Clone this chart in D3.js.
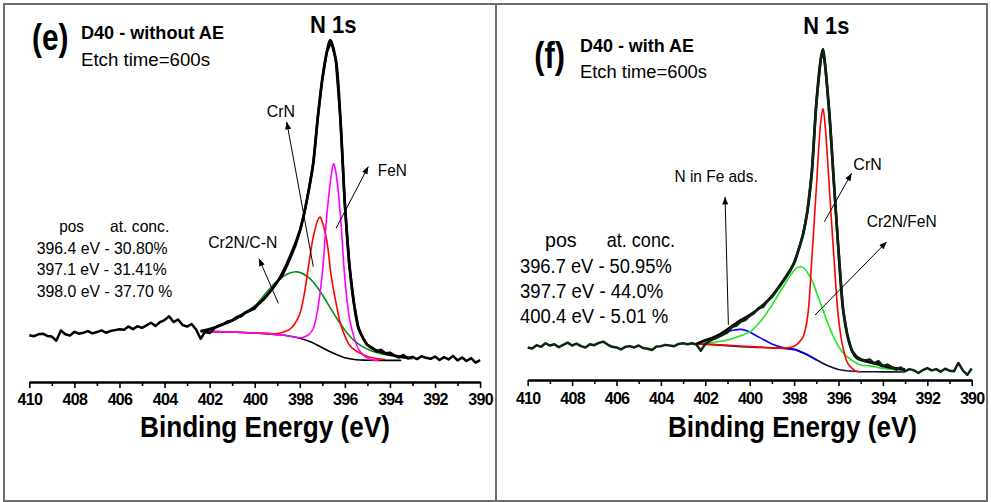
<!DOCTYPE html>
<html>
<head>
<meta charset="utf-8">
<script src="https://cdn.jsdelivr.net/npm/d3@7"></script>
<style>
    body { margin: 0; background: #fff; }
    svg { display: block; font-family: "Liberation Sans", Arial, sans-serif; }
</style>
</head>
<body>
<div id="chart"></div>
<script>
// binding energy (eV) / intensity (a.u., peak = 100)
var ticksMajor = [410, 408, 406, 404, 402, 400, 398, 396, 394, 392, 390];
var ticksMinor = [409, 407, 405, 403, 401, 399, 397, 395, 393, 391];

//----------(e) D40 - without AE----------
var rawE = [[410.0,8.3],[409.8,8.0],[409.6,8.6],[409.4,8.8],[409.2,8.1],[409.0,7.9],[408.8,6.6],[408.6,9.8],[408.4,8.6],[408.2,8.2],
    [408.0,9.4],[407.8,8.8],[407.6,9.1],[407.4,9.6],[407.2,8.9],[407.0,9.3],[406.8,9.8],[406.6,9.1],[406.4,9.6],[406.2,9.9],
    [406.0,10.2],[405.8,10.0],[405.6,11.0],[405.4,10.2],[405.2,11.1],[405.0,10.6],[404.8,11.4],[404.6,12.2],[404.4,11.2],[404.2,12.4],
    [404.0,13.0],[403.8,14.2],[403.6,12.4],[403.4,13.2],[403.2,11.5],[403.0,11.0],[402.8,11.8],[402.6,10.1],[402.4,7.2],[402.2,9.4],
    [402.0,9.0],[401.8,10.4],[401.6,11.3],[401.4,11.8],[401.2,12.6],[401.0,12.9],[400.8,14.0],[400.6,14.2],[400.4,15.4],[400.2,16.0],
    [400.0,16.6],[399.8,18.5],[399.6,19.4],[399.4,21.2],[399.2,22.9],[399.0,24.9],[398.8,26.6],[398.6,29.4],[398.4,32.6],[398.2,36.0],
    [398.0,40.5],[397.8,46.3],[397.6,53.4],[397.4,61.8],[397.2,76.0],[397.0,87.9],[396.8,96.3],[396.6,99.5],[396.4,93.8],[396.2,75.8],
    [396.0,49.1],[395.8,30.1],[395.6,18.3],[395.4,10.6],[395.2,7.5],[395.0,5.3],[394.8,4.5],[394.6,3.2],[394.4,3.8],[394.2,2.7],
    [394.0,2.9],[393.8,2.0],[393.6,1.4],[393.4,2.2],[393.2,1.1],[393.0,1.6],[392.8,0.9],[392.6,1.8],[392.4,1.3],[392.2,1.0],
    [392.0,1.7],[391.8,0.6],[391.6,1.5],[391.4,0.8],[391.2,1.9],[391.0,0.5],[390.8,1.4],[390.6,0.3],[390.4,1.2],[390.2,-0.2],[390.0,0.6]];
var envE = [[402.4,9.6],[402.0,10.2],[401.5,11.4],[401.0,12.9],[400.5,14.9],[400.0,17.0],[399.5,20.3],[399.0,24.8],[398.5,31.7],
    [398.0,40.7],[397.8,46.3],[397.6,53.4],[397.4,61.8],[397.2,76.0],[397.0,87.9],[396.8,96.3],[396.65,100],[396.4,93.8],[396.2,75.8],
    [396.0,49.1],[395.8,30.1],[395.6,18.3],[395.4,10.6],[395.2,7.5],[395.0,5.3],[394.5,3.3],[394.0,2.3],[393.5,1.6],[393.0,1.2]];
var bgE = [[402.4,9.5],[401.0,9.3],[400.0,9.0],[399.5,8.8],[399.0,8.5],[398.5,8.1],[398.0,7.4],[397.5,6.2],[397.0,4.4],
    [396.5,2.7],[396.0,1.3],[395.5,0.7],[395.0,0.55],[394.5,0.5],[393.5,0.5]];
var cr2nE = [[402.4,9.6],[402.0,10.2],[401.5,11.5],[401.0,13.0],[400.5,15.2],[400.0,17.4],[399.5,21.4],[399.0,25.2],[398.5,27.5],
    [398.1,28.0],[397.6,26.2],[397.2,23.0],[396.8,18.6],[396.4,14.0],[396.0,9.9],[395.6,6.7],[395.2,4.7],[394.8,3.4],[394.4,2.6],[394.0,2.0]];
var crnE = [[402.4,9.5],[401.5,9.4],[400.5,9.15],[399.5,8.9],[399.0,8.8],[398.6,9.6],[398.4,10.4],[398.2,12.1],[398.0,14.9],
    [397.8,21.1],[397.6,30.4],[397.4,38.9],[397.2,44.1],[397.1,45.0],[397.0,43.5],[396.8,37.6],[396.6,26.4],[396.4,18.6],[396.2,12.1],
    [396.0,8.1],[395.8,5.3],[395.6,3.9],[395.4,3.0],[395.2,2.3],[395.0,1.7],[394.6,1.1],[394.2,0.8]];
var fenE = [[402.4,9.5],[401.0,9.3],[400.0,9.0],[399.0,8.5],[398.5,8.1],[398.0,7.5],[397.8,7.8],[397.6,8.5],[397.4,10.4],
    [397.2,16.6],[397.0,27.6],[396.8,45.5],[396.6,58.2],[396.5,61.6],[396.4,59.0],[396.2,45.7],[396.0,25.9],[395.8,13.7],[395.6,7.8],
    [395.4,4.1],[395.2,2.3],[395.0,1.2],[394.8,0.7],[394.5,0.5]];
var concE = ["396.4 eV - 30.80%", "397.1 eV - 31.41%", "398.0 eV - 37.70 %"];

//----------(f) D40 - with AE----------
var rawF = [[410.0,7.6],[409.8,7.3],[409.6,8.3],[409.4,7.8],[409.2,8.9],[409.0,8.2],[408.8,8.6],[408.6,7.7],[408.4,8.4],[408.2,9.1],
    [408.0,8.2],[407.8,8.8],[407.6,8.0],[407.4,7.6],[407.2,8.6],[407.0,8.3],[406.8,9.0],[406.6,9.4],[406.4,8.5],[406.2,7.8],
    [406.0,7.6],[405.8,7.0],[405.6,7.8],[405.4,8.0],[405.2,7.6],[405.0,8.2],[404.8,7.4],[404.6,7.2],[404.4,6.8],[404.2,7.9],
    [404.0,8.0],[403.8,8.4],[403.6,8.2],[403.4,8.0],[403.2,8.7],[403.0,8.9],[402.8,8.6],[402.6,8.9],[402.4,8.5],[402.2,6.6],
    [402.0,8.7],[401.8,9.6],[401.6,10.3],[401.4,10.9],[401.2,11.6],[401.0,12.3],[400.8,13.9],[400.6,14.4],[400.4,15.6],[400.2,16.1],
    [400.0,17.4],[399.8,18.2],[399.6,19.8],[399.4,20.1],[399.2,22.0],[399.0,23.2],[398.8,25.1],[398.6,26.9],[398.4,28.9],[398.2,31.0],
    [398.0,33.9],[397.8,37.8],[397.6,42.5],[397.4,49.8],[397.2,61.9],[397.0,83.1],[396.8,96.8],[396.7,99.6],[396.6,94.9],[396.4,78.9],
    [396.2,57.9],[396.0,37.6],[395.8,19.7],[395.6,11.4],[395.4,6.7],[395.2,4.9],[395.0,4.0],[394.8,3.6],[394.6,3.9],[394.4,2.7],
    [394.2,3.4],[394.0,1.8],[393.8,2.3],[393.6,1.5],[393.4,0.7],[393.2,1.4],[393.0,0.3],[392.8,0.9],[392.6,0.5],[392.4,-0.3],
    [392.2,0.6],[392.0,1.2],[391.8,0.5],[391.6,0.9],[391.4,0.1],[391.2,1.0],[391.0,0.4],[390.8,0.2],[390.6,2.8],[390.4,0.5],
    [390.2,-0.9],[390.0,1.1]];
var envF = [[402.4,8.7],[402.0,9.8],[401.5,11.1],[401.0,13.2],[400.5,15.6],[400.0,17.6],[399.5,20.1],[399.0,23.5],[398.5,28.2],
    [398.0,33.7],[397.8,37.8],[397.6,42.5],[397.4,49.8],[397.2,61.9],[397.0,83.1],[396.8,96.8],[396.7,100],[396.6,94.9],[396.4,78.9],
    [396.2,57.9],[396.0,37.6],[395.8,19.7],[395.6,11.4],[395.4,6.7],[395.2,4.5],[395.0,3.8],[394.6,3.0],[394.2,2.3],[394.0,1.9],
    [393.5,1.2],[393.0,0.8]];
var bgF = [[402.4,8.7],[401.5,8.4],[400.5,7.9],[399.5,7.6],[398.5,7.3],[398.0,6.9],[397.5,5.6],[397.0,3.8],[396.5,2.0],
    [396.0,0.8],[395.5,0.3],[395.0,0.1],[394.0,0.05],[393.0,0.0]];
var nfeF = [[402.4,8.7],[402.0,9.6],[401.5,11.1],[401.0,12.4],[400.7,13.0],[400.4,13.2],[400.1,12.7],[399.8,11.6],[399.5,10.5],
    [399.0,8.7],[398.5,7.6],[398.0,7.1],[397.5,5.7],[397.0,3.8]];
var cr2nF = [[402.4,8.7],[402.0,8.8],[401.5,9.3],[401.0,9.9],[400.5,11.0],[400.0,12.4],[399.5,15.8],[399.0,20.7],[398.5,26.3],
    [398.0,31.4],[397.8,32.5],[397.6,32.4],[397.4,30.8],[397.2,28.5],[397.0,24.8],[396.6,17.3],[396.2,10.5],[395.8,6.0],[395.4,3.6],
    [395.0,2.2],[394.6,1.9],[394.0,1.1],[393.5,0.8],[393.0,0.5]];
var crnF = [[402.4,8.7],[401.0,8.3],[399.5,7.7],[398.5,7.4],[398.0,8.0],[397.8,9.0],[397.6,10.8],[397.4,16.7],[397.2,35.2],
    [397.0,56.8],[396.8,77.4],[396.7,81.6],[396.6,76.2],[396.4,55.6],[396.2,34.8],[396.0,16.7],[395.8,7.6],[395.6,2.9],[395.4,1.2],
    [395.2,0.2],[395.0,0.1]];
var concF = ["396.7 eV - 50.95%", "397.7 eV - 44.0%", "400.4 eV - 5.01 %"];

// peak labels and arrows, in (eV, intensity)
var notesE = [
    { t: "CrN", at: [399.47, 76.0], len: 28.3, from: [397.40, 29.6], to: [398.58, 74.6] },
    { t: "FeN", at: [394.54, 57.9], len: 29, from: [396.39, 41.5], to: [394.96, 60.7] },
    { t: "Cr2N/C-N", at: [402.06, 35.3], len: 69, from: [398.95, 18.2], to: [399.81, 32.1] }
];
var notesF = [
    { t: "N in Fe ads.", at: [403.39, 58.9], len: 83.3, from: [400.96, 14.6], to: [401.11, 54.2] },
    { t: "CrN", at: [395.33, 62.5], len: 28.4, from: [396.64, 46.5], to: [395.41, 61.5] },
    { t: "Cr2N/FeN", at: [394.73, 44.8], len: 70, from: [397.06, 17.6], to: [393.83, 40.3] }
];

var W = 991, H = 502;
var svg = d3.select("#chart").append("svg")
    .attr("width", W)
    .attr("height", H);

svg.append("defs").append("marker")
    .attr("id", "head")
    .attr("markerUnits", "userSpaceOnUse")
    .attr("viewBox", "0 0 10 8")
    .attr("refX", 10).attr("refY", 4)
    .attr("markerWidth", 8).attr("markerHeight", 6)
    .attr("orient", "auto")
    .append("path")
    .attr("d", "M0,0 L10,4 L0,8 Z")
    .attr("fill", "#000");

function txt(g, t, x, y, size, weight, len, anchor) {
    var el = g.append("text")
        .attr("x", x).attr("y", y)
        .style("font-size", size + "px")
        .style("font-weight", weight || "normal")
        .text(t);
    if (anchor) el.attr("text-anchor", anchor);
    if (len) el.attr("textLength", len).attr("lengthAdjust", "spacingAndGlyphs");
    return el;
}

function drawPanel(p) {
    var g = svg.append("g");
    var x = d3.scaleLinear().domain([410, 390]).range(p.xr);
    var y = d3.scaleLinear().domain([0, 100]).range(p.yr);

    g.append("rect")
        .attr("x", p.frame[0]).attr("y", p.frame[1])
        .attr("width", p.frame[2]).attr("height", p.frame[3])
        .attr("fill", "none").attr("stroke", "#6e6e6e").attr("stroke-width", 2);

    var straight = d3.line().x(function (d) { return x(d[0]); }).y(function (d) { return y(d[1]); });
    var smooth = d3.line().curve(d3.curveCatmullRom.alpha(0.5))
        .x(function (d) { return x(d[0]); }).y(function (d) { return y(d[1]); });

    p.fits.forEach(function (f) {
        g.append("path").datum(f.data)
            .attr("d", smooth)
            .attr("fill", "none")
            .attr("stroke", f.color)
            .attr("stroke-width", f.w || 1.6);
    });
    g.append("path").datum(p.env)
        .attr("d", smooth)
        .attr("fill", "none").attr("stroke", "#000").attr("stroke-width", 2.7);
    g.append("path").datum(p.raw)
        .attr("d", straight)
        .attr("fill", "none").attr("stroke", p.rawColor).attr("stroke-width", 2.5)
        .attr("stroke-linejoin", "round");

    // axis
    var ax = g.append("g").attr("transform", "translate(0," + p.axisY + ")");
    ax.call(d3.axisBottom(x).tickValues(ticksMinor).tickSize(4).tickSizeOuter(0).tickFormat(""));
    ax.append("g").call(d3.axisBottom(x).tickValues(ticksMajor).tickSize(6).tickSizeOuter(0)
        .tickPadding(p.tickPad).tickFormat(d3.format("d")));
    ax.selectAll("path.domain").attr("stroke-width", 1.8).attr("stroke", "#000");
    ax.selectAll(".tick line").attr("stroke-width", 1.6).attr("stroke", "#000");
    ax.selectAll(".tick text")
        .attr("fill", "#000")
        .style("font-family", "'Liberation Sans', Arial, sans-serif")
        .style("font-size", "16px")
        .style("font-weight", "bold")
        .style("letter-spacing", "-0.7px");

    // peak labels
    p.notes.forEach(function (n) {
        g.append("line")
            .attr("x1", x(n.from[0])).attr("y1", y(n.from[1]))
            .attr("x2", x(n.to[0])).attr("y2", y(n.to[1]))
            .attr("stroke", "#000").attr("stroke-width", 1)
            .attr("marker-end", "url(#head)");
        txt(g, n.t, x(n.at[0]), y(n.at[1]), p.noteSize, "normal", n.len);
    });
    return g;
}

//----------(e)----------
var gE = drawPanel({
    xr: [29.3, 480.1], yr: [362, 40], axisY: 382, tickPad: 6,
    frame: [4, 4, 492, 497],
    raw: rawE, env: envE, rawColor: "#000",
    fits: [
        { data: bgE, color: "#000", w: 1.6 },
        { data: cr2nE, color: "#0b8a12" },
        { data: crnE, color: "#ff0000" },
        { data: fenE, color: "#ff00ff" }
    ],
    notes: notesE, noteSize: 17
});
txt(gE, "(e)", 32, 50, 37, "bold", 36.5);
txt(gE, "D40 - without AE", 81, 39.3, 18.5, "bold", 143);
txt(gE, "Etch time=600s", 81, 66, 18, "normal", 129);
txt(gE, "N 1s", 333.3, 33.3, 24.5, "bold", 46.5, "middle");
txt(gE, "Binding Energy (eV)", 265, 436.5, 29, "bold", 250, "middle");
txt(gE, "pos", 59.3, 232.3, 16.5, "normal", 24.7);
txt(gE, "at. conc.", 110, 232.3, 16.5, "normal", 59.3);
var lensE = [131, 130, 135.6];
concE.forEach(function (c, i) {
    txt(gE, c, 36.7, 254 + i * 21.3, 16.5, "normal", lensE[i]);
});

//----------(f)----------
var gF = drawPanel({
    xr: [527.7, 971.7], yr: [372, 49], axisY: 380, tickPad: 7,
    frame: [496, 4, 491, 497],
    raw: rawF, env: envF, rawColor: "#0d240f",
    fits: [
        { data: bgF, color: "#101040", w: 1.6 },
        { data: nfeF, color: "#0000ff" },
        { data: cr2nF, color: "#1ee61e" },
        { data: crnF, color: "#ff0000" }
    ],
    notes: notesF, noteSize: 17
});
txt(gF, "(f)", 534.3, 68, 37, "bold", 30.7);
txt(gF, "D40 - with AE", 580, 52.3, 18.5, "bold", 114);
txt(gF, "Etch time=600s", 580, 78.3, 18, "normal", 127);
txt(gF, "N 1s", 826.3, 34, 24.5, "bold", 46, "middle");
txt(gF, "Binding Energy (eV)", 792.5, 436.5, 29, "bold", 249, "middle");
txt(gF, "pos", 545, 246.7, 20.5, "normal", 31.7);
txt(gF, "at. conc.", 606.7, 246.7, 20.5, "normal", 68.3);
var lensF = [151.7, 143.3, 148.3];
concF.forEach(function (c, i) {
    txt(gF, c, 520, 273.3 + i * 25, 20.5, "normal", lensF[i]);
});
</script>
</body>
</html>
